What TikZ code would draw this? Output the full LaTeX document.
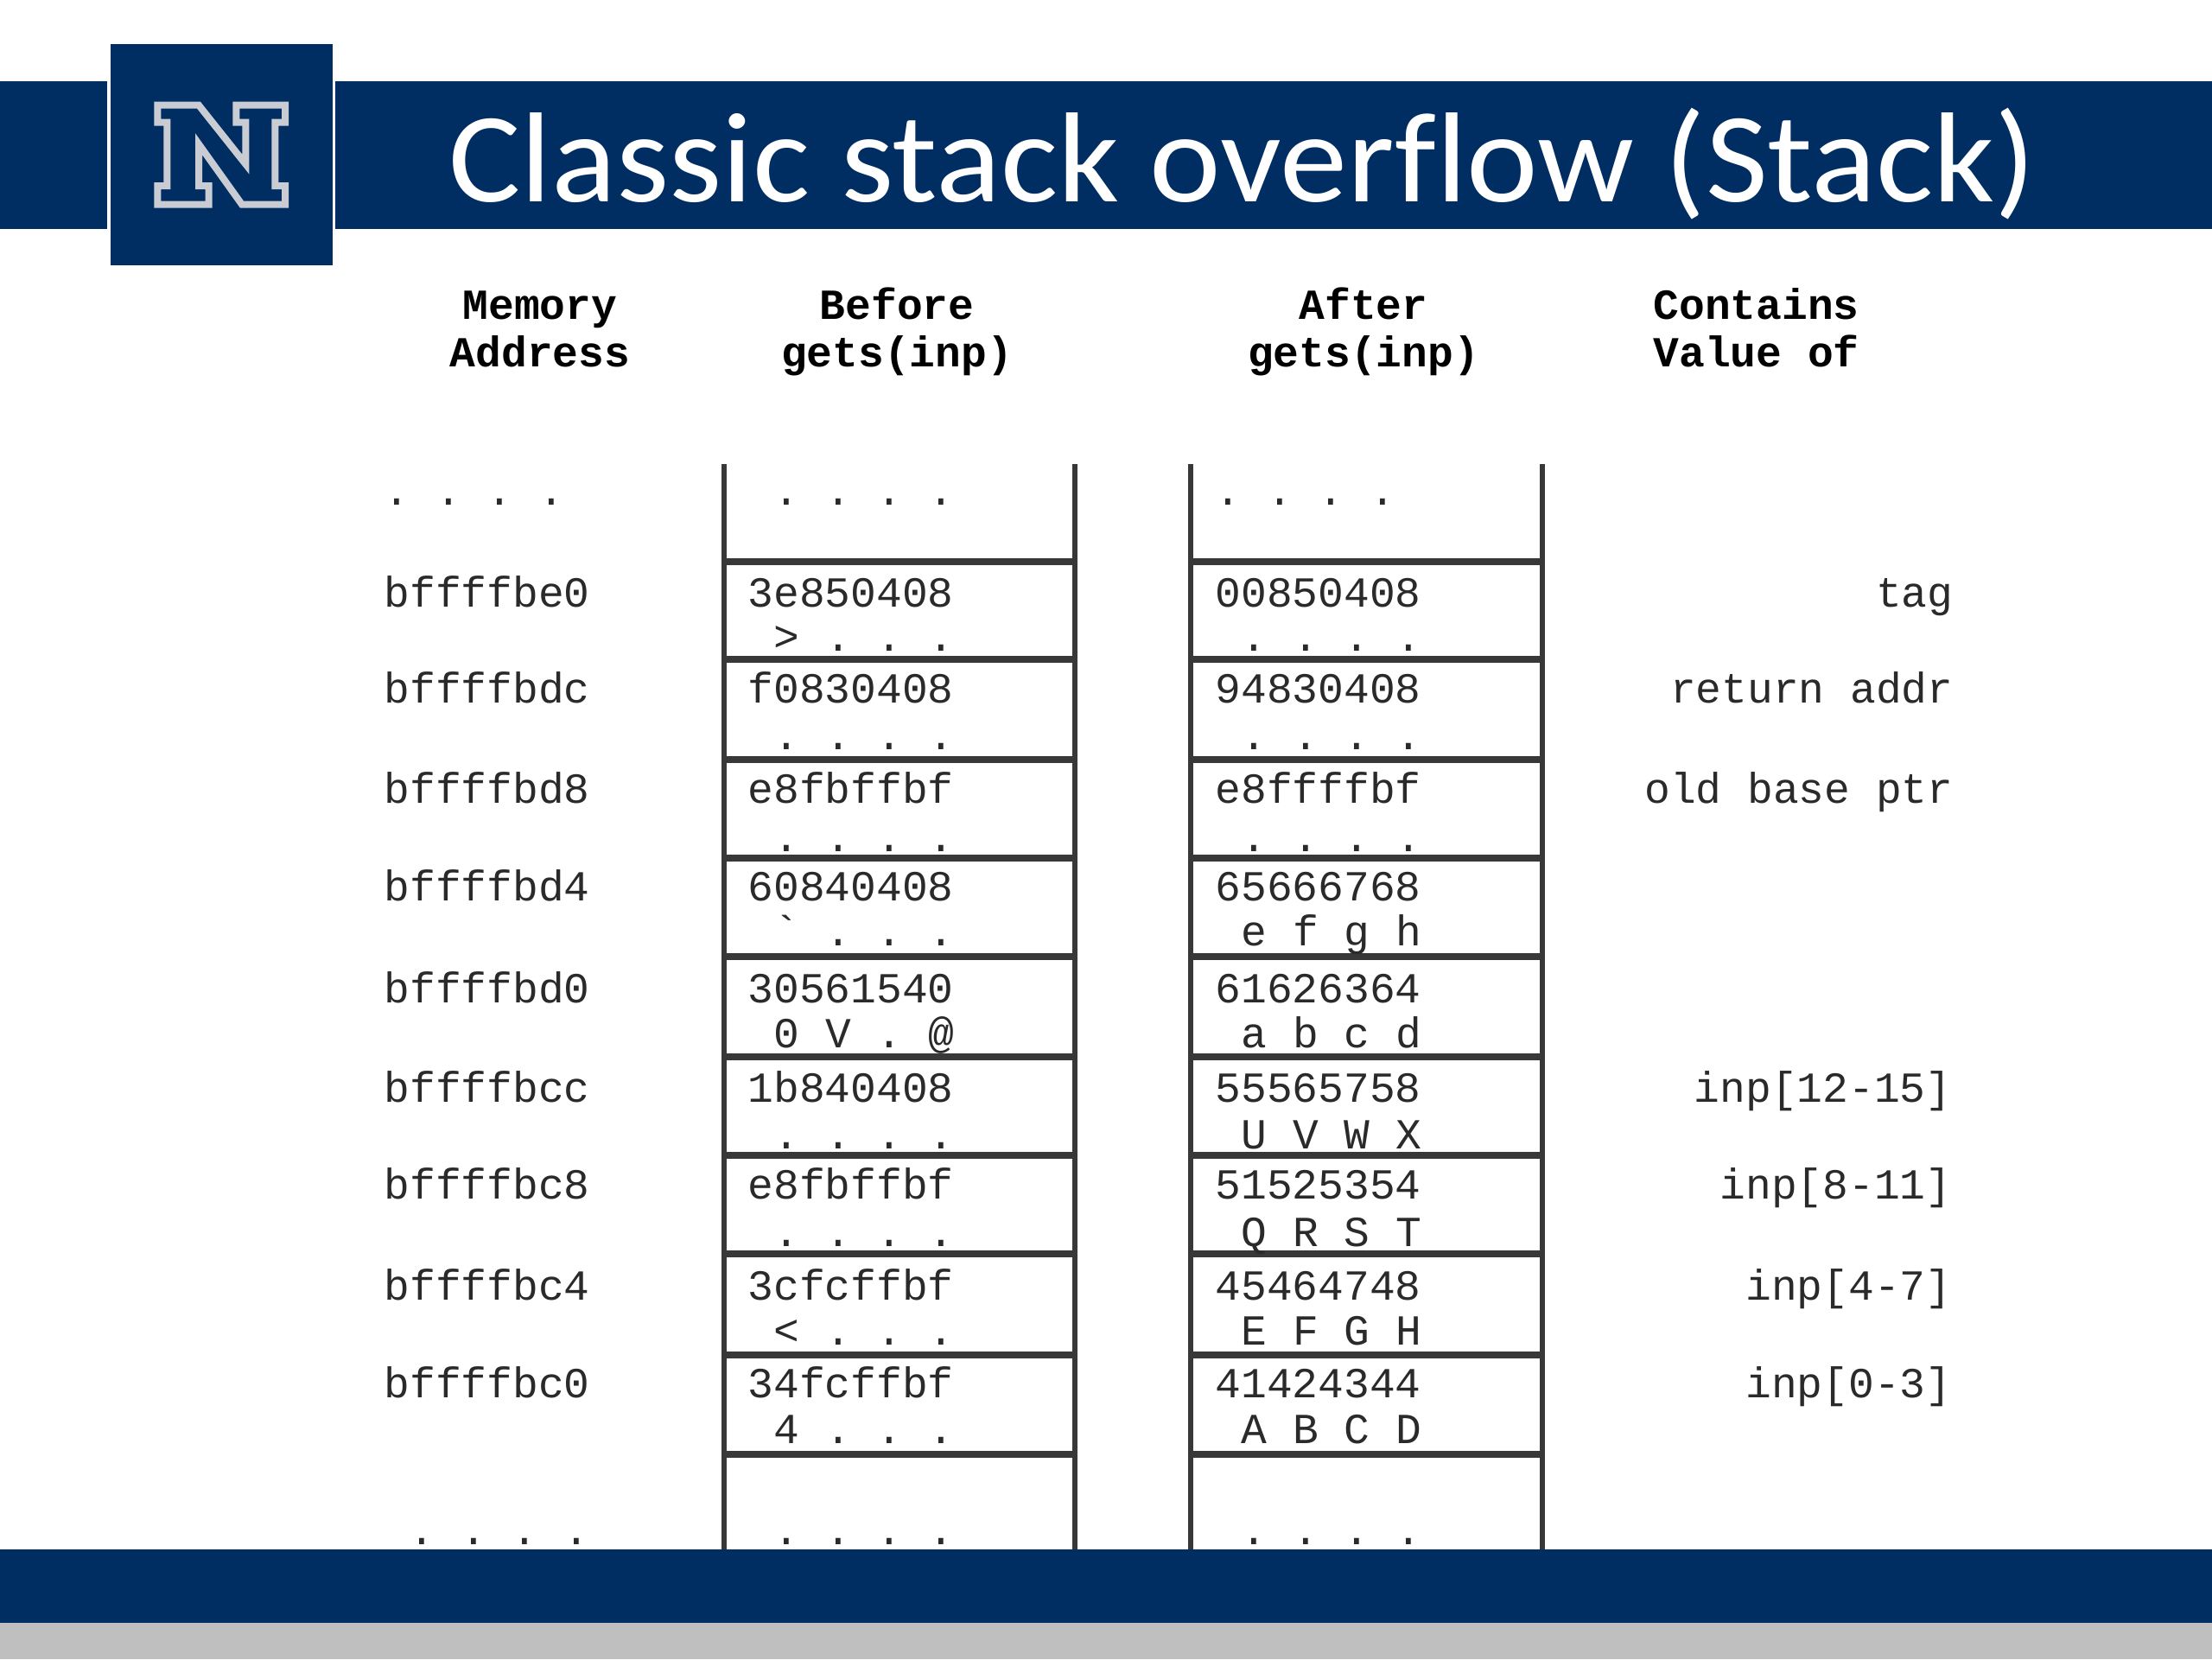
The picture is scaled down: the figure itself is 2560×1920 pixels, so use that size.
\documentclass[tikz,border=0pt]{standalone}
\usepackage{graphicx}
\usepackage{fontspec}
\setmainfont{Carlito}
\newfontfamily\memfont{Liberation Mono}
\definecolor{navy}{HTML}{002D62}
\definecolor{logogray}{HTML}{C9CDD3}
\definecolor{footgray}{HTML}{BFBFBF}
\definecolor{rulegray}{HTML}{383838}
\definecolor{inkgray}{HTML}{2A2A2A}
\tikzset{
  band/.style={fill=navy,draw=none},
  rulev/.style={draw=rulegray,line width=2.5pt,line cap=butt},
  ruleh/.style={draw=rulegray,line width=2.9pt,line cap=butt},
  mem/.style={font=\memfont\fontsize{18.6}{20}\selectfont,text=inkgray,inner sep=0pt,anchor=base west,yshift=-0.9pt},
  memr/.style={mem,anchor=base east},
  head/.style={font=\memfont\bfseries\fontsize{18.6}{20}\selectfont,text=black,inner sep=0pt,anchor=base,yshift=-0.6pt},
  headl/.style={head,anchor=base west},
}
\begin{document}
\begin{tikzpicture}[x=0.375pt,y=-0.375pt]
\useasboundingbox (0,0) rectangle (2560,1920);
\fill[white] (0,0) rectangle (2560,1920);
% header
\fill[band] (0,94) rectangle (124,265);
\fill[band] (388,94) rectangle (2560,265);
\fill[band] (128,51) rectangle (385,307);
\draw[logogray,line width=3pt,miter limit=10]
  (182.3,121.7) -- (230,121.7) -- (284.3,190) -- (284.3,141.7) -- (273.3,141.7) -- (273.3,121.7) -- (330,121.7)
  -- (330,141.7) -- (318.3,141.7) -- (318.3,215) -- (330,215) -- (330,236.7) -- (280,236.7) -- (230,166.7)
  -- (230,215) -- (241.7,215) -- (241.7,236.7) -- (182.3,236.7) -- (182.3,215) -- (193.3,215)
  -- (193.3,141.7) -- (182.3,141.7) -- cycle;
\node[inner sep=0pt,anchor=base west,text=white,font=\fontsize{55.6}{60}\selectfont] (title) at (519,233) {\scalebox{1.055}[1]{Classic stack overf\kern0pt low (Stack)}};
% footer
\fill[footgray] (0,1878) rectangle (2560,1920);
% column headings
\node[head] (h1a) at (625,368) {Memory};
\node[head] (h1b) at (625,423) {Address};
\node[head] (h2a) at (1038,368) {Before};
\node[head] (h2b) at (1038,423) {gets(inp)};
\node[head] (h3a) at (1578,368) {After};
\node[head] (h3b) at (1578,423) {gets(inp)};
\node[headl] (h4a) at (1913,368) {Contains};
\node[headl] (h4b) at (1913,423) {Value of};
% stack columns
\foreach \xa/\xb in {838/1244,1378/1785}{
  \draw[rulev] (\xa,537) -- (\xa,1793);
  \draw[rulev] (\xb,537) -- (\xb,1793);
  \foreach \yy in {650,763,879,993,1107,1223,1337,1451,1568,1683}{
    \draw[ruleh] (\xa,\yy) -- (\xb,\yy);
  }
}
% rows
\foreach \ya/\yb/\addr/\hb/\ab/\hc/\ac [count=\i] in {
  700/751/bffffbe0/3e850408/{>\ .\ .\ .}/00850408/{.\ .\ .\ .},
  811/865/bffffbdc/f0830408/{.\ .\ .\ .}/94830408/{.\ .\ .\ .},
  927/983/bffffbd8/e8fbffbf/{.\ .\ .\ .}/e8ffffbf/{.\ .\ .\ .},
  1040/1092/bffffbd4/60840408/{\textasciigrave\ .\ .\ .}/65666768/{e\ f\ g\ h},
  1158/1210/bffffbd0/30561540/{0\ V\ .\ @}/61626364/{a\ b\ c\ d},
  1273/1327/bffffbcc/1b840408/{.\ .\ .\ .}/55565758/{U\ V\ W\ X},
  1385/1440/bffffbc8/e8fbffbf/{.\ .\ .\ .}/51525354/{Q\ R\ S\ T},
  1502/1554/bffffbc4/3cfcffbf/{<\ .\ .\ .}/45464748/{E\ F\ G\ H},
  1615/1668/bffffbc0/34fcffbf/{4\ .\ .\ .}/41424344/{A\ B\ C\ D}}{
  \node[mem] (addr\i) at (444,\ya) {\addr};
  \node[mem] (hb\i) at (865,\ya) {\hb};
  \node[mem] (ab\i) at (895,\yb) {\ab};
  \node[mem] (hc\i) at (1406,\ya) {\hc};
  \node[mem] (ac\i) at (1436,\yb) {\ac};
}
% dots above and below
\node[mem] (dotsa) at (444,582) {.\ .\ .\ .};
\node[mem] (dotsb) at (895,582) {.\ .\ .\ .};
\node[mem] (dotsc) at (1406,582) {.\ .\ .\ .};
\node[mem] (dotsd) at (473,1785) {.\ .\ .\ .};
\node[mem] (dotse) at (895,1785) {.\ .\ .\ .};
\node[mem] (dotsf) at (1436,1785) {.\ .\ .\ .};
% contains
\node[memr] (c1) at (2261,700) {tag};
\node[memr] (c2) at (2261,811) {return addr};
\node[memr] (c3) at (2261,927) {old base ptr};
\node[memr] (c4) at (2259,1273) {inp[12-15]};
\node[memr] (c5) at (2259,1385) {inp[8-11]};
\node[memr] (c6) at (2259,1502) {inp[4-7]};
\node[memr] (c7) at (2259,1615) {inp[0-3]};
% footer band drawn last, over the ends of the rules
\fill[band] (0,1793) rectangle (2560,1878);
\end{tikzpicture}
\end{document}
